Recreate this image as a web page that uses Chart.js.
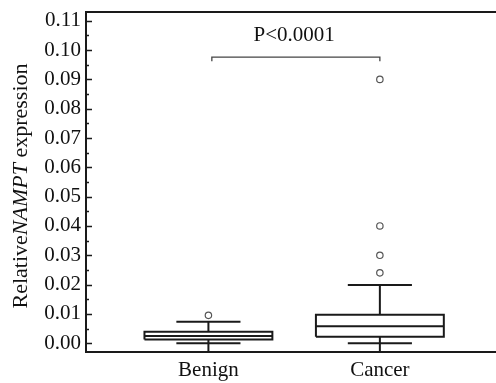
<!DOCTYPE html>
<html>
<head>
<meta charset="utf-8">
<script src="https://cdn.jsdelivr.net/npm/chart.js@4.4.0/dist/chart.umd.min.js"></script>
<style>
  html, body { margin: 0; padding: 0; background: #fff; }
  #wrap { width: 496px; height: 383px; }
</style>
</head>
<body>
<div id="wrap"><canvas id="grafico" width="496" height="383"></canvas></div>
<script>
// data
const categories = ['Benign', 'Cancer'];
const whiskerLow = [0.0, 0.0];
const q1 = [0.0013, 0.0022];
const median = [0.0025, 0.0058];
const q3 = [0.0039, 0.0097];
const whiskerHigh = [0.0073, 0.0199];
const outliers = [[0.0095], [0.024, 0.030, 0.040, 0.090]];
const yTicks = [0, 0.01, 0.02, 0.03, 0.04, 0.05, 0.06, 0.07, 0.08, 0.09, 0.10, 0.11];
const pLabel = 'P<0.0001';
const bracketLevel = 0.0976;

const Y_MIN = -0.003, Y_MAX = 0.113;
const BOX_HALF = 0.373, CAP_HALF = 0.187;
const INK = '#1a1a1a';
const FONT = "'Liberation Serif', 'Times New Roman', serif";

function segment(points, width, color) {
    return {
        type: 'scatter',
        data: points.map(p => ({ x: p[0], y: p[1] })),
        showLine: true,
        borderColor: color || INK,
        borderWidth: width || 2,
        pointRadius: 0,
        tension: 0,
        fill: false
    };
}

const datasets = [];
categories.forEach((c, i) => {
    const cx = i + 1;
    // box
    datasets.push(segment([
        [cx - BOX_HALF, q1[i]], [cx + BOX_HALF, q1[i]], [cx + BOX_HALF, q3[i]],
        [cx - BOX_HALF, q3[i]], [cx - BOX_HALF, q1[i]]
    ]));
    // median
    datasets.push(segment([[cx - BOX_HALF, median[i]], [cx + BOX_HALF, median[i]]]));
    // upper whisker + cap
    datasets.push(segment([[cx, q3[i]], [cx, whiskerHigh[i]]]));
    datasets.push(segment([[cx - CAP_HALF, whiskerHigh[i]], [cx + CAP_HALF, whiskerHigh[i]]]));
    // lower whisker (stem runs down to the axis) + cap
    datasets.push(segment([[cx, q1[i]], [cx, Y_MIN]]));
    datasets.push(segment([[cx - CAP_HALF, whiskerLow[i]], [cx + CAP_HALF, whiskerLow[i]]]));
    // outliers
    datasets.push({
        type: 'scatter',
        data: outliers[i].map(v => ({ x: cx, y: v })),
        pointRadius: 3.2,
        pointBackgroundColor: '#fff',
        pointBorderColor: '#555',
        pointBorderWidth: 1.2
    });
});

// significance bracket
const drop = 0.0014;
datasets.push(segment([
    [1.02, bracketLevel - drop], [1.02, bracketLevel],
    [2.0, bracketLevel], [2.0, bracketLevel - drop]
], 1.3, '#444'));

const extras = {
    id: 'extras',
    afterDraw(chart) {
        const ctx = chart.ctx;
        const a = chart.chartArea;
        const x = chart.scales.x, y = chart.scales.y;
        ctx.save();
        ctx.strokeStyle = INK;

        // inward ticks, major and minor
        ctx.lineWidth = 1.5;
        ctx.beginPath();
        yTicks.forEach((v, k) => {
            const py = Math.round(y.getPixelForValue(v)) + 0.5;
            ctx.moveTo(a.left, py);
            ctx.lineTo(a.left + 6, py);
            if (k < yTicks.length - 1) {
                const pm = Math.round(y.getPixelForValue((v + yTicks[k + 1]) / 2)) + 0.5;
                ctx.moveTo(a.left, pm);
                ctx.lineTo(a.left + 3, pm);
            }
        });
        ctx.stroke();

        // frame runs off the right edge in the original
        ctx.lineWidth = 2;
        ctx.beginPath();
        ctx.moveTo(a.left, a.top);
        ctx.lineTo(chart.width, a.top);
        ctx.moveTo(a.right - 1, a.bottom);
        ctx.lineTo(chart.width, a.bottom);
        ctx.stroke();

        // p-value
        ctx.fillStyle = '#111';
        ctx.font = '21px ' + FONT;
        ctx.textAlign = 'center';
        ctx.textBaseline = 'middle';
        ctx.fillText(pLabel, x.getPixelForValue(1.5), y.getPixelForValue(0.1051));

        // y title with italic gene name
        const parts = [
            ['Relative', '22px ' + FONT],
            ['NAMPT', 'italic 22px ' + FONT],
            [' expression', '22px ' + FONT]
        ];
        let total = 0;
        parts.forEach(p => { ctx.font = p[1]; total += ctx.measureText(p[0]).width; });
        ctx.translate(21, 186);
        ctx.rotate(-Math.PI / 2);
        ctx.textAlign = 'left';
        let pos = -total / 2;
        parts.forEach(p => {
            ctx.font = p[1];
            ctx.fillText(p[0], pos, 0);
            pos += ctx.measureText(p[0]).width;
        });
        ctx.restore();
    }
};

new Chart(document.getElementById('grafico'), {
    type: 'scatter',
    data: { datasets: datasets },
    options: {
        responsive: false,
        animation: false,
        layout: { padding: { top: 12, right: 0, left: 0, bottom: 0 } },
        plugins: { legend: { display: false }, tooltip: { enabled: false } },
        scales: {
            x: {
                type: 'linear',
                min: 0.286,
                max: 2.647,
                afterBuildTicks: s => { s.ticks = [{ value: 1 }, { value: 2 }]; },
                afterFit: s => { s.height = 31; s.paddingLeft = 0; s.paddingRight = 0; },
                grid: { display: false, drawTicks: false },
                border: { display: true, color: INK, width: 2 },
                ticks: {
                    padding: 6,
                    color: '#111',
                    font: { family: FONT, size: 21 },
                    callback: v => categories[Math.round(v) - 1]
                }
            },
            y: {
                min: Y_MIN,
                max: Y_MAX,
                afterBuildTicks: s => { s.ticks = yTicks.map(v => ({ value: v })); },
                afterFit: s => { s.width = 86; s.paddingTop = 0; s.paddingBottom = 0; },
                grid: { display: false, drawTicks: false },
                border: { display: true, color: INK, width: 2 },
                ticks: {
                    padding: 5,
                    color: '#111',
                    font: { family: FONT, size: 21 },
                    callback: v => v.toFixed(2)
                }
            }
        }
    },
    plugins: [extras]
});
</script>
</body>
</html>
